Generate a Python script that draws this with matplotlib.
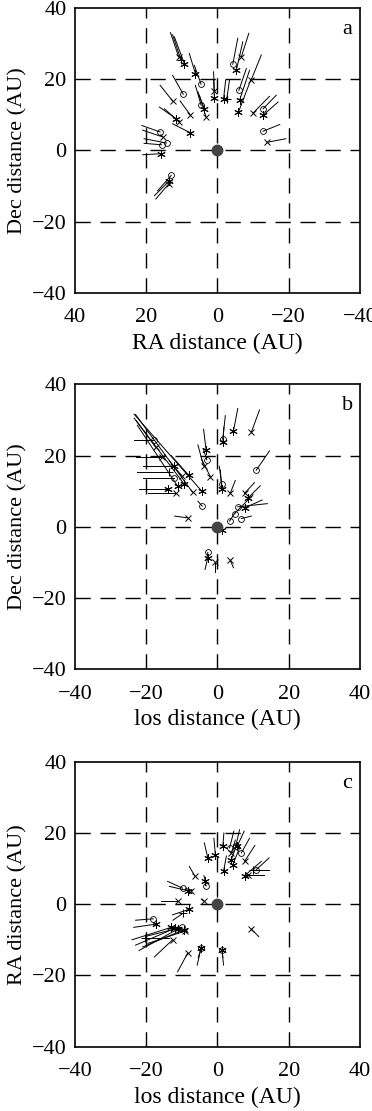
import matplotlib
matplotlib.use('Agg')
import matplotlib.pyplot as plt

plt.rcParams['font.family'] = ['Liberation Serif', 'DejaVu Serif']

# panel a: RA vs Dec  (start point, end of vector, marker)
a_x  = [10.9, 9.3, 10.2, 6.2, 4.6, 9.6, 12.6, 7.7, 4.6, 3.7, 3.2, 11.6, 10.7, 7.7,
        0.85, 0.85, -1.7, -2.6, -4.3, -5.3, -6.7, -6.0, -9.5, -6.2, -5.9, -10.0,
        -12.8, -12.8, -12.8, -13.9, 16.1, 15.4, 14.3, 15.7, 15.9, 13.0, 13.5, 13.7]
a_y  = [26.3, 24.4, 25.3, 21.6, 18.6, 15.8, 13.9, 10.1, 12.7, 11.7, 9.4, 8.9, 8.0, 5.0,
        16.7, 14.6, 14.4, 14.4, 24.2, 22.5, 26.3, 16.9, 19.9, 14.1, 10.8, 10.5,
        11.7, 9.9, 5.4, 2.3, 5.2, 3.8, 2.1, 1.6, -0.9, -7.0, -8.5, -9.4]
a_ex = [13.2, 12.1, 12.6, 7.9, 6.5, 12.6, 16.1, 10.5, 6.2, 5.5, 5.1, 16.3, 14.9, 12.6,
        1.1, 1.1, -2.3, -3.4, -5.7, -7.1, -8.8, -8.1, -12.3, -9.0, -9.5, -14.6,
        -16.5, -17.0, -17.5, -19.2, 21.2, 21.0, 20.6, 20.6, 21.0, 16.8, 17.7, 17.3]
a_ey = [33.1, 31.9, 32.5, 27.2, 23.9, 21.1, 18.3, 13.9, 18.3, 16.5, 15.5, 12.2, 11.7, 7.5,
        22.1, 20.0, 19.7, 19.9, 31.5, 30.5, 32.9, 23.0, 26.8, 22.5, 20.2, 15.2,
        15.5, 13.6, 7.3, 3.3, 7.0, 5.7, 3.3, 2.0, -1.2, -11.3, -12.7, -13.6]
a_mk = ['x', '*', '+', '*', 'o', 'o', 'x', 'x', 'o', '*', 'x', '*', 'x', '*',
        'x', '*', '*', '+', 'o', '*', 'x', 'o', 'x', '*', '*', 'x',
        'o', '*', 'o', 'x', 'o', 'x', 'o', 'o', '*', 'o', '*', 'x']

# panel b: los vs Dec
b_x  = [-17.9, -17.3, -12.1, -12.1, -11.2, -11.6, -9.3, -8.1, -10.0, -7.0, -4.4,
        -4.3, -8.4, -3.2, -3.0, -3.9, -2.0, 1.5, 1.5, 4.5, 9.5, 10.9, 1.2, 1.2,
        3.6, 7.6, 8.5, 5.7, 4.8, 3.4, 6.7, 7.6, 1.2, -2.7, -2.7, -0.6, 3.6,
        -14.0, -15.5, -13.5]
b_y  = [24.4, 22.3, 17.1, 13.8, 11.4, 9.6, 11.9, 14.5, 14.3, 9.7, 10.0,
        5.8, 2.5, 21.6, 18.8, 17.1, 14.1, 24.6, 23.7, 26.9, 26.5, 15.9, 11.9, 10.5,
        9.4, 9.4, 8.0, 5.6, 3.7, 1.6, 2.3, 5.3, -0.8, -7.2, -8.7, -10.0, -9.4,
        10.5, 19.5, 15.5]
b_ex = [-23.5, -23.4, -21.0, -21.0, -22.5, -19.5, -22.8, -13.0, -13.5, -23.0, -23.4,
        -5.5, -12.0, -3.9, -4.0, -5.5, -4.5, 2.2, 1.8, 5.7, 11.8, 14.6, 0.5, 0.8,
        5.0, 10.4, 12.0, 14.0, 10.0, 5.0, 9.5, 12.5, 1.5, -3.0, -3.5, -0.6, 4.5,
        -22.0, -23.0, -22.5]
b_ey = [24.4, 30.5, 17.1, 13.8, 28.5, 9.6, 29.8, 20.0, 18.5, 31.5, 31.6,
        7.2, 3.0, 27.4, 22.0, 23.0, 19.0, 31.2, 28.0, 33.2, 32.8, 21.3, 17.0, 16.0,
        13.0, 12.4, 11.5, 6.5, 9.0, 4.0, 3.0, 7.5, -1.0, -9.0, -12.0, -12.6, -11.5,
        10.5, 19.5, 15.5]
b_mk = ['o', 'x', '*', 'o', '*', 'x', '*', '*', 'x', 'x', '*',
        'o', 'x', '*', 'o', 'x', 'x', 'o', '*', '*', 'x', 'o', 'o', '*',
        'x', 'x', '*', 'o', 'o', 'o', 'o', '*', '*', 'o', '*', 'x', 'x',
        '*', 'x', '+']

# panel c: los vs RA
c_x  = [-2.7, -0.6, 1.5, 3.4, 5.1, 5.6, 6.7, 3.9, 3.9, 4.3, 7.6, 1.7, 10.9, 10.0,
        7.6, 8.5, -6.3, -3.4, -3.2, -9.8, -8.4, -7.3, -11.2, -3.9, -7.9, -9.6,
        -18.0, -17.3, -13.0, -12.0, -11.0, -10.0, -9.5, -9.0, -12.6, -20.3,
        -8.4, -4.6, -4.6, 1.3, 1.3, 9.5]
c_y  = [13.0, 13.9, 16.2, 15.8, 16.2, 16.4, 14.4, 14.3, 12.5, 11.1, 12.0, 9.2, 9.7, 9.5,
        8.0, 8.3, 7.8, 6.4, 5.1, 4.5, 3.8, 3.8, 0.9, 0.9, -1.4, -2.5,
        -4.1, -5.6, -6.5, -6.8, -6.9, -6.5, -7.2, -7.5, -10.0, -9.5,
        -13.8, -12.4, -12.4, -12.9, -12.9, -7.0]
c_ex = [-3.7, -1.0, 1.8, 4.6, 6.2, 7.5, 9.0, 5.0, 5.5, 6.3, 10.5, 2.5, 14.5, 14.5,
        12.3, 13.0, -7.9, -3.8, -3.5, -14.0, -13.5, -9.0, -15.9, -4.5, -12.6, -12.5,
        -23.0, -23.5, -24.0, -23.0, -22.0, -20.0, -21.0, -19.5, -17.7, -13.5,
        -11.2, -5.7, -5.4, 1.7, 1.5, 11.6]
c_ey = [17.2, 18.5, 20.0, 20.5, 20.9, 20.5, 18.5, 18.0, 17.0, 16.0, 16.5, 13.5, 13.0, 9.5,
        12.0, 8.3, 10.6, 8.0, 6.5, 6.4, 5.0, 4.5, 0.9, 1.3, -3.0, -4.5,
        -4.5, -6.5, -10.0, -11.5, -13.0, -9.0, -12.0, -11.0, -14.8, -9.5,
        -19.0, -17.1, -15.0, -17.1, -15.0, -9.1]
c_mk = ['*', '*', '*', 'o', 'o', '*', 'o', 'x', '*', '*', 'x', '*', 'o', '+',
        '*', 'x', 'x', '*', 'o', 'o', '*', 'x', 'x', 'x', '*', '+',
        'o', '*', '*', '*', '*', 'o', '*', 'x', 'x', '+',
        'x', '*', 'o', 'o', '*', 'x']

styles = {
    'o': dict(marker='o', ms=4.2, mfc='none', mew=0.6),
    'x': dict(marker='x', ms=5, mew=0.7),
    '*': dict(marker=(6, 2, 0), ms=6, mew=0.7),
    '+': dict(marker='+', ms=6, mew=0.7),
}

fig = plt.figure(figsize=(3.72, 11.11), dpi=100)

panels = [
    (a_x, a_y, a_ex, a_ey, a_mk, 'a', 'RA distance (AU)', 'Dec distance (AU)', 0.7363),
    (b_x, b_y, b_ex, b_ey, b_mk, 'b', 'los distance (AU)', 'Dec distance (AU)', 0.3976),
    (c_x, c_y, c_ex, c_ey, c_mk, 'c', 'los distance (AU)', 'RA distance (AU)', 0.0579),
]

for x, y, ex, ey, mk, letter, xlab, ylab, bottom in panels:
    ax = fig.add_axes([0.2016, bottom, 0.766, 0.2565])
    for v in (-20, 0, 20):
        ax.axhline(v, color='k', lw=1.0, dashes=(11, 7), zorder=1)
        ax.axvline(v, color='k', lw=1.0, dashes=(11, 7), zorder=1)
    for i in range(len(x)):
        ax.plot([x[i], ex[i]], [y[i], ey[i]], color='k', lw=0.7, zorder=2)
        ax.plot(x[i], y[i], color='k', ls='none', zorder=3, **styles[mk[i]])
    ax.plot(0, 0, 'o', color='#444444', ms=7.5, zorder=4)
    ax.set_ylim(-40, 40)
    if letter == 'a':
        ax.set_xlim(40, -40)
        ax.text(-36.5, 34.0, letter, fontsize=16, ha='center', va='center')
    else:
        ax.set_xlim(-40, 40)
        ax.text(36.5, 34.0, letter, fontsize=16, ha='center', va='center')
    ax.set_xticks([-40, -20, 0, 20, 40])
    ax.set_yticks([-40, -20, 0, 20, 40])
    ax.tick_params(axis='x', direction='in', length=0, labelsize=16, pad=11)
    ax.tick_params(axis='y', direction='in', length=0, labelsize=16, pad=6)
    for s in ax.spines.values():
        s.set_linewidth(1.2)
    ax.set_xlabel(xlab, fontsize=17, labelpad=4)
    ax.set_ylabel(ylab, fontsize=16, labelpad=3)

fig.savefig('out.png', dpi=100)
